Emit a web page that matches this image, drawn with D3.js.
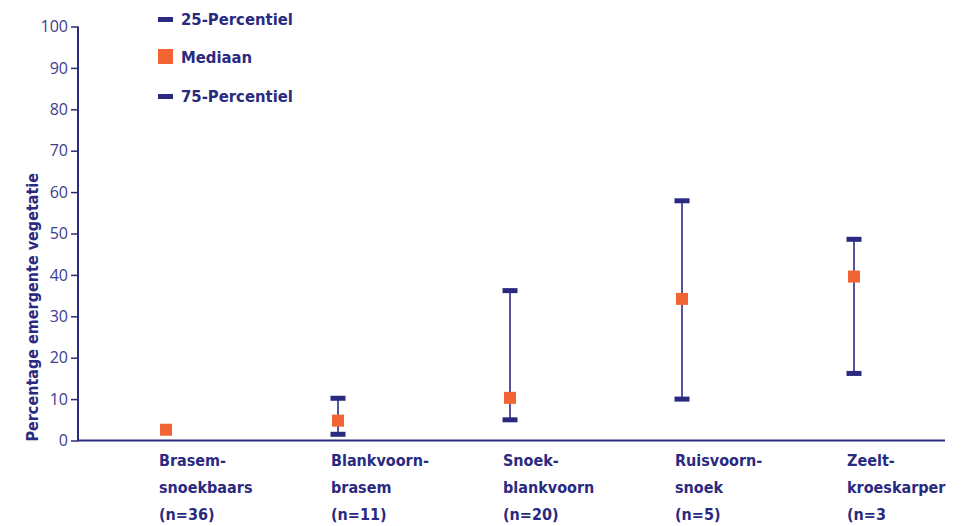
<!DOCTYPE html>
<html>
<head>
<meta charset="utf-8">
<script src="https://cdn.jsdelivr.net/npm/d3@7"></script>
<style>
  html, body { margin: 0; padding: 0; background: #ffffff; }
  svg { display: block; }
</style>
</head>
<body>
<div id="chart"></div>
<script>
// Fish community types, with number of waters per type
const categories = ["Brasem-snoekbaars", "Blankvoorn-brasem", "Snoek-blankvoorn", "Ruisvoorn-snoek", "Zeelt-kroeskarper"];
const labelLines = [
  ["Brasem-", "snoekbaars", "(n=36)"],
  ["Blankvoorn-", "brasem", "(n=11)"],
  ["Snoek-", "blankvoorn", "(n=20)"],
  ["Ruisvoorn-", "snoek", "(n=5)"],
  ["Zeelt-", "kroeskarper", "(n=3"]
];
// Percentage emergent vegetation per type (null = no percentile drawn)
const p25 = [null, 1.5, 5.0, 10.0, 16.2];
const median = [2.6, 4.8, 10.3, 34.2, 39.6];
const p75 = [null, 10.2, 36.2, 57.9, 48.6];
const yTicks = [0, 10, 20, 30, 40, 50, 60, 70, 80, 90, 100];
const legendItems = ["25-Percentiel", "Mediaan", "75-Percentiel"];

const W = 970, H = 526;
const navy = "#2a2a80";
const whisker = "#5656a0";
const orange = "#f26532";
const tickText = "#3c3c90";
const fontBold = "'DejaVu Sans Condensed', 'DejaVu Sans', sans-serif";

const svg = d3.select("#chart").append("svg")
  .attr("width", W).attr("height", H);

const x = d3.scalePoint().domain(categories).range([166, 854]);
const y = d3.scaleLinear().domain([0, 100]).range([440.5, 26.5]);

// Y axis
const yAxis = d3.axisLeft(y).tickValues(yTicks).tickSize(7).tickPadding(3);
const gy = svg.append("g").attr("transform", "translate(78,0)").call(yAxis);
gy.select(".domain").attr("stroke", navy).attr("stroke-width", 2)
  .attr("d", `M0,${y(100)}V${y(0)}`);
gy.selectAll(".tick line").attr("stroke", navy).attr("stroke-width", 1.5);
gy.selectAll(".tick text")
  .attr("fill", tickText)
  .attr("font-family", "'Open Sans', sans-serif")
  .attr("font-size", 16);

// X axis baseline
svg.append("line")
  .attr("x1", 77).attr("x2", 945)
  .attr("y1", y(0)).attr("y2", y(0))
  .attr("stroke", navy).attr("stroke-width", 2);

// Y axis title
svg.append("text")
  .attr("transform", `translate(38,${(y(0) + 170) / 2 + 2}) rotate(-90)`)
  .attr("text-anchor", "middle")
  .attr("fill", navy)
  .attr("font-family", fontBold)
  .attr("font-weight", "bold")
  .attr("font-size", 16)
  .text("Percentage emergente vegetatie");

// Category labels
const lab = svg.append("g");
categories.forEach((c, i) => {
  const t = lab.append("text")
    .attr("x", x(c) - 7)
    .attr("fill", navy)
    .attr("font-family", fontBold)
    .attr("font-weight", "bold")
    .attr("font-size", 16);
  labelLines[i].forEach((ln, j) => {
    t.append("tspan").attr("x", x(c) - 7).attr("y", 466 + j * 27).text(ln);
  });
});

// Whiskers between the 25th and 75th percentiles
const idx = d3.range(categories.length);
const withRange = idx.filter(i => p25[i] != null && p75[i] != null);
svg.append("g").selectAll("line").data(withRange).join("line")
  .attr("x1", i => x(categories[i])).attr("x2", i => x(categories[i]))
  .attr("y1", i => y(p25[i])).attr("y2", i => y(p75[i]))
  .attr("stroke", whisker).attr("stroke-width", 2);

// Percentile caps
const capW = 15, capH = 5;
const caps = [];
withRange.forEach(i => { caps.push({ i, v: p25[i] }); caps.push({ i, v: p75[i] }); });
svg.append("g").selectAll("rect").data(caps).join("rect")
  .attr("x", d => x(categories[d.i]) - capW / 2)
  .attr("y", d => y(d.v) - capH / 2)
  .attr("width", capW).attr("height", capH)
  .attr("fill", navy);

// Medians
const sq = 12;
svg.append("g").selectAll("rect").data(idx).join("rect")
  .attr("x", i => x(categories[i]) - sq / 2)
  .attr("y", i => y(median[i]) - sq / 2)
  .attr("width", sq).attr("height", sq)
  .attr("fill", orange);

// Legend
const legY = [19, 57, 96];
const leg = svg.append("g");
legendItems.forEach((name, k) => {
  if (k === 1) {
    leg.append("rect").attr("x", 158).attr("y", legY[k] - 8)
      .attr("width", 15).attr("height", 15).attr("fill", orange);
  } else {
    leg.append("rect").attr("x", 158).attr("y", legY[k] - 2)
      .attr("width", 15).attr("height", 5).attr("fill", navy);
  }
  leg.append("text")
    .attr("x", 181).attr("y", legY[k]).attr("dy", "0.35em")
    .attr("fill", navy)
    .attr("font-family", fontBold)
    .attr("font-weight", "bold")
    .attr("font-size", 16.5)
    .text(name);
});
</script>
</body>
</html>
